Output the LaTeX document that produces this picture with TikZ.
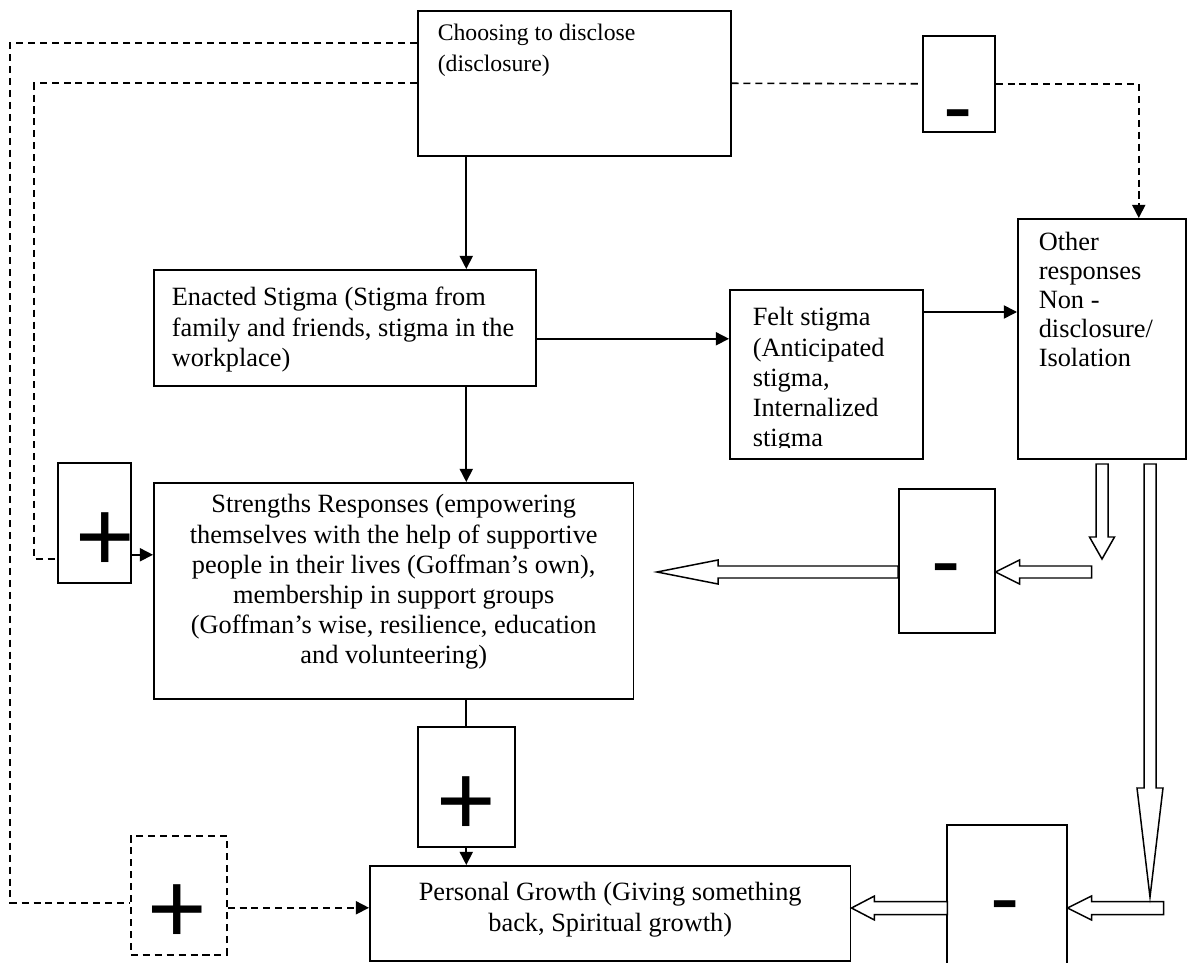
\documentclass[tikz,border=0pt]{standalone}
\usepackage{fontspec}
\setmainfont{Liberation Serif}
\newfontfamily\signfont{Liberation Sans}
\usetikzlibrary{arrows.meta}
\newcommand{\mainsize}{\fontsize{15pt}{17.2pt}\selectfont}
\newcommand{\topsize}{\fontsize{13.5pt}{17.2pt}\selectfont}

\begin{document}
\begin{tikzpicture}[
    x=0.02cm, y=-0.02cm,
    box/.style={draw, line width=0.9pt, inner sep=0pt, anchor=north west, font=\mainsize},
    dashbox/.style={box, dash pattern=on 4pt off 2.8pt},
    plussign/.style={font=\signfont\fontsize{58pt}{58pt}\selectfont, inner sep=0pt, anchor=base},
    minussign/.style={font=\signfont\fontsize{50pt}{50pt}\selectfont, inner sep=0pt, anchor=base},
    arrow/.style={-{Triangle[length=7.5pt, width=7.5pt]}, line width=0.9pt},
    link/.style={line width=0.9pt, dash pattern=on 4pt off 2.8pt},
    hollow/.style={draw, line width=0.85pt, fill=white}
]
\useasboundingbox (0,0) rectangle (1188,963);

% Text boxes
\node[box, font=\topsize] (disclose) at (417,10) {\parbox[t][2.90cm][t]{6.26cm}{\raggedright\leftskip=0.4cm\rule{0pt}{0.6cm}Choosing to disclose\\(disclosure)}};
\node[box] (other) at (1017,218) {\parbox[t][4.80cm][t]{3.36cm}{\raggedright\leftskip=0.42cm\baselineskip=16.4pt\rule{0pt}{0.64cm}Other\\responses\\Non -\\disclosure/\\Isolation}};
\node[box] (enacted) at (153,269) {\parbox[t][2.32cm][t]{7.64cm}{\raggedright\leftskip=0.36cm\rule{0pt}{0.72cm}Enacted Stigma (Stigma from\\family and friends, stigma in the\\workplace)}};
\node[box, minimum width=3.86cm, minimum height=3.38cm] (felt) at (729,289) {};
\begin{scope}
  \clip (felt.north west) rectangle ([yshift=0.24cm]felt.south east);
  \node[box, draw=none] (feltText) at (felt.north west) {\parbox[t][3.38cm][t]{3.86cm}{\raggedright\leftskip=0.46cm\rule{0pt}{0.72cm}Felt stigma\\(Anticipated\\stigma,\\Internalized\\stigma}};
\end{scope}
\node[box] (strengths) at (153,482) {\parbox[t][4.32cm][t]{9.60cm}{\centering\rule{0pt}{0.6cm}Strengths Responses (empowering\\themselves with the help of supportive\\people in their lives (Goffman’s own),\\membership in support groups\\(Goffman’s wise, resilience, education\\and volunteering)}};
\node[box] (personal) at (369,865) {\parbox[t][1.90cm][t]{9.62cm}{\centering\rule{0pt}{0.7cm}Personal Growth (Giving something\\back, Spiritual growth)}};

% Sign boxes
\node[box, minimum width=1.44cm, minimum height=1.92cm] (minusTop) at (922,35) {};
\node[box, minimum width=1.46cm, minimum height=2.40cm] (plusLeft) at (57,462) {};
\node[box, minimum width=1.92cm, minimum height=2.88cm] (minusMid) at (898,488) {};
\node[box, minimum width=1.94cm, minimum height=2.40cm] (plusMid) at (417,726) {};
\node[dashbox, minimum width=1.92cm, minimum height=2.38cm] (plusDash) at (130,835) {};
\node[box, minimum width=2.40cm, minimum height=3.20cm] (minusBot) at (946,824) {};

\node[minussign] (minusTopSign) at (958,137) {-};
\node[plussign] (plusLeftSign) at (105,571) {+};
\node[minussign] (minusMidSign) at (946,590) {-};
\node[plussign] (plusMidSign) at (466,835) {+};
\node[plussign] (plusDashSign) at (177,943) {+};
\node[minussign] (minusBotSign) at (1005,927) {-};

% Solid arrows
\draw[arrow] (plusMid.north |- disclose.south) -- (plusMid.north |- enacted.north);
\draw[arrow] ([yshift=-0.22cm]enacted.east) -- ([yshift=-0.22cm]enacted.east -| felt.west);
\draw[arrow] ([yshift=-0.46cm]felt.north east) -- ([yshift=-0.46cm]felt.north east -| other.west);
\draw[arrow] (plusMid.north |- enacted.south) -- (plusMid.north |- strengths.north);
\draw[arrow] ([yshift=-0.64cm]plusLeft.east) -- ([yshift=-0.64cm]plusLeft.east -| strengths.west);
\draw[line width=0.9pt] (plusMid.north |- strengths.south) -- (plusMid.north);
\draw[arrow] (plusMid.south) -- (plusMid.south |- personal.north);

% Dashed links
\draw[link] (disclose.east) -- (minusTop.west);
\draw[link, arrow] (minusTop.east) -| ([xshift=0.74cm]other.north);
\draw[link] (disclose.west) -- ++(-383,0) |- ([yshift=-0.72cm]plusLeft.west);
\draw[link] ([yshift=-0.66cm]disclose.north west) -- ++(-407,0) |- ([yshift=-0.15cm]plusDash.west);
\draw[link, arrow] ([yshift=-0.25cm]plusDash.east) -- ([yshift=-0.25cm]plusDash.east -| personal.west);

% Hollow arrows
\coordinate (midTail) at (1090,572);
\coordinate (strTip) at (657,572);
\coordinate (botTail) at (1162,908);
\coordinate (smallTip) at (1102,559);
\coordinate (longTip) at (1150,897);
\draw[hollow] (minusMid.east |- midTail) -- ++(24,-12) -- ++(0,6) -- ++(72,0) -- ++(0,12) -- ++(-72,0) -- ++(0,6) -- cycle;
\draw[hollow] (strTip) -- ++(61,-12) -- ++(0,6) -- ++(180,0) -- ++(0,12) -- ++(-180,0) -- ++(0,6) -- cycle;
\draw[hollow] (personal.east |- botTail) -- ++(23,-12) -- ++(0,5.5) -- ++(73,0) -- ++(0,13) -- ++(-73,0) -- ++(0,5.5) -- cycle;
\draw[hollow] (minusBot.east |- botTail) -- ++(24,-12) -- ++(0,5.5) -- ++(72,0) -- ++(0,13) -- ++(-72,0) -- ++(0,5.5) -- cycle;
\draw[hollow] (smallTip) -- ++(-12.5,-22) -- ++(6.5,0) -- ++(0,-73) -- ++(12,0) -- ++(0,73) -- ++(6.5,0) -- cycle;
\draw[hollow] (longTip) -- ++(-13,-109) -- ++(7,0) -- ++(0,-324) -- ++(12,0) -- ++(0,324) -- ++(7,0) -- cycle;

\end{tikzpicture}
\end{document}
